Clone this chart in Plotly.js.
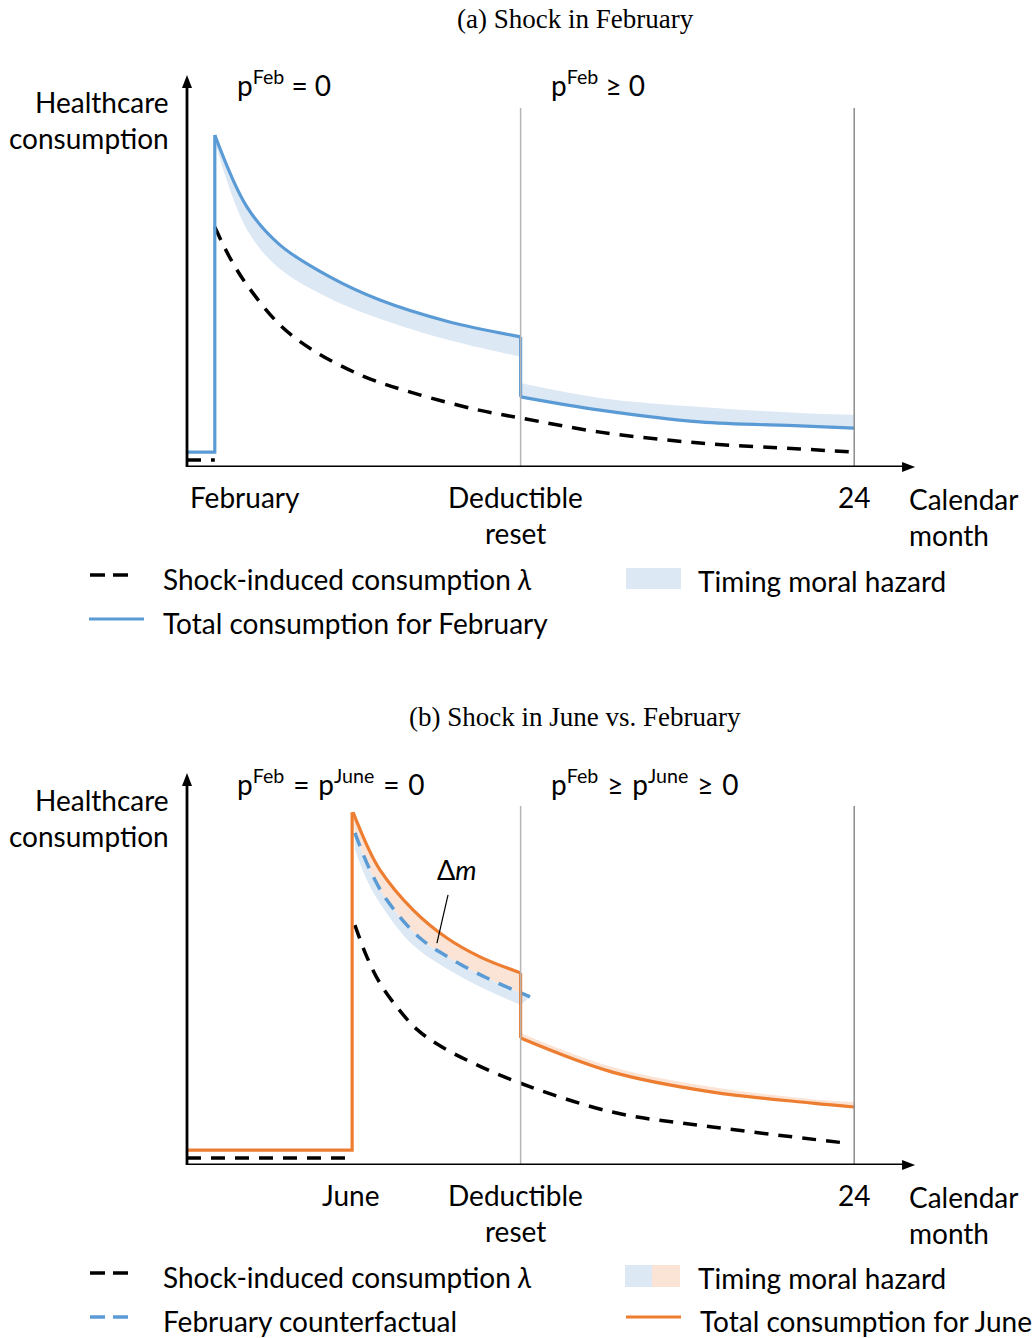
<!DOCTYPE html>
<html>
<head>
<meta charset="utf-8">
<script src="https://cdn.plot.ly/plotly-3.0.1.min.js"></script>
<style>
  html, body { margin: 0; padding: 0; background: #ffffff; }
  #chart { width: 1034px; height: 1338px; }
</style>
</head>
<body>
<div id="chart"></div>
<script>
// ---------- data (x: calendar months on a schematic scale, y: consumption index) ----------
// Panel (a): shock in February
const febShockX = 1;
const resetX = 12;
const endX = 24;
const baseTotal = 3.8;
const baseShock = 1.8;

const febTotalPreX  = [1, 2.16, 3.35, 5.14, 6.94, 9.35, 12];
const febTotalPreY  = [84.7, 66.3, 56.6, 48.5, 42.6, 37.2, 33.2];
const febBandPreLoY = [83, 60.5, 50.5, 43, 37.8, 32.5, 28.1];

const febTotalPostX  = [12, 14.86, 18.45, 22.05, 24];
const febTotalPostY  = [17.9, 14.5, 11.5, 10.5, 9.9];
const febBandPostHiY = [21.4, 17.6, 15.3, 13.8, 13.3];

const febShockCurveX = [1, 1.55, 2.16, 3.35, 4.53, 6.33, 8.13, 10.5, 12, 14.86, 18.45, 22.05, 24];
const febShockCurveY = [61.2, 53.3, 46.4, 36.2, 29.8, 23.2, 18.9, 14.5, 12.5, 8.9, 6.1, 4.6, 3.8];

// Panel (b): shock in June vs. February
const juneShockX = 5.94;

const juneTotalPreX = [5.97, 6.47, 6.94, 8.13, 9.35, 10.54, 12];
const juneTotalPreY = [90, 81.6, 75.3, 65.1, 57.9, 53.1, 49];

const juneTotalPostX  = [12, 15.3, 18.9, 22.5, 24];
const juneTotalPostY  = [32.4, 23.7, 18.6, 15.8, 14.8];
const juneBandPostHiY = [33.7, 25, 19.9, 16.8, 16.1];

const febCfX = [6.04, 6.58, 7.19, 8.38, 9.57, 10.79, 12, 12.34];
const febCfY = [84.7, 75.3, 67.6, 57.9, 52.3, 47.7, 43.9, 42.9];
const febCfBandLoX = [6.04, 6.47, 6.94, 8.13, 9.93, 12];
const febCfBandLoY = [80.4, 72.7, 66.8, 56.1, 47.7, 40.8];

const juneShockCurveX = [6.04, 6.47, 6.94, 7.55, 8.27, 9.1, 10.29, 11.98, 15.3, 18.9, 23.7];
const juneShockCurveY = [61.2, 53.1, 46.4, 40.3, 34.6, 30.4, 26, 20.9, 13.5, 9.7, 5.6];

const guideTop = 91.6;   // height of the vertical guides at the reset and month 24
const axisTopY = 100;
const axisEndX = 26.19;

// Labels
const SP = '\u00a0\u200a';
const titles = ['(a) Shock in February', '(b) Shock in June vs. February'];
const priceLabels = [
  ['p<sup>Feb</sup> = 0', 'p<sup>Feb</sup> ≥ 0'],
  ['p<sup>Feb</sup>' + SP + '=' + SP + 'p<sup>June</sup>' + SP + '=' + SP + '0',
   'p<sup>Feb</sup>' + SP + '≥' + SP + 'p<sup>June</sup>' + SP + '≥' + SP + '0']
];
const shockTickLabels = ['February', 'June'];
const legendLabels = {
  shock: 'Shock-induced consumption <i>λ</i>',
  timing: 'Timing moral hazard',
  febTotal: 'Total consumption for February',
  febCf: 'February counterfactual',
  juneTotal: 'Total consumption for June'
};

// ---------- styling ----------
const W = 1034, H = 1338;
const PX_PER_MONTH = 27.8;
const AXIS_X0_PX = 187;
const BLUE = '#5b9bd5', BLUE_FILL = '#dde8f5';
const ORANGE = '#ed7d31', ORANGE_FILL = '#fbe4d5';
const FONT = 'Lato, "Open Sans", sans-serif';
const SERIF = '"Liberation Serif", "DejaVu Serif", serif';
const FS = 28;
const DASH = '14px,10px';

function px(xp, yp) { return { x: xp / W, y: 1 - yp / H }; }

function band(x, y, xa, ya, fill) {
  return { x, y, xaxis: xa, yaxis: ya, mode: 'lines', line: { width: 0, shape: 'spline' },
    fill: fill ? 'tonexty' : 'none', fillcolor: fill, hoverinfo: 'skip', showlegend: false };
}
function line(x, y, xa, ya, color, width, dash, shape) {
  return { x, y, xaxis: xa, yaxis: ya, mode: 'lines',
    line: { color, width, dash: dash || 'solid', shape: shape || 'linear' },
    hoverinfo: 'skip', showlegend: false };
}

const cfBandUpX = febCfX.filter(v => v <= resetX);
const cfBandUpY = febCfY.slice(0, cfBandUpX.length);

const traces = [
  // panel (a) timing moral hazard bands
  band(febTotalPreX, febBandPreLoY, 'x', 'y', null),
  band(febTotalPreX, febTotalPreY, 'x', 'y', BLUE_FILL),
  band(febTotalPostX, febTotalPostY, 'x', 'y', null),
  band(febTotalPostX, febBandPostHiY, 'x', 'y', BLUE_FILL),
  // panel (a) lines
  line([0, febShockX], [baseShock, baseShock], 'x', 'y', '#000', 3.5, DASH),
  line(febShockCurveX, febShockCurveY, 'x', 'y', '#000', 3.5, DASH, 'spline'),
  line([0, febShockX, febShockX], [baseTotal, baseTotal, febTotalPreY[0]], 'x', 'y', BLUE, 3.2),
  line(febTotalPreX, febTotalPreY, 'x', 'y', BLUE, 3.2, null, 'spline'),
  line([resetX, resetX], [febTotalPreY[febTotalPreY.length - 1], febTotalPostY[0]], 'x', 'y', BLUE, 3.2),
  line(febTotalPostX, febTotalPostY, 'x', 'y', BLUE, 3.2, null, 'spline'),

  // panel (b) bands
  band(febCfBandLoX, febCfBandLoY, 'x2', 'y2', null),
  band(febCfX, febCfY, 'x2', 'y2', BLUE_FILL),
  band(cfBandUpX, cfBandUpY, 'x2', 'y2', null),
  band(juneTotalPreX, juneTotalPreY, 'x2', 'y2', ORANGE_FILL),
  band(juneTotalPostX, juneTotalPostY, 'x2', 'y2', null),
  band(juneTotalPostX, juneBandPostHiY, 'x2', 'y2', ORANGE_FILL),
  // panel (b) lines
  line([0, juneShockX], [baseShock, baseShock], 'x2', 'y2', '#000', 3.5, DASH),
  line(juneShockCurveX, juneShockCurveY, 'x2', 'y2', '#000', 3.5, DASH, 'spline'),
  line(febCfX, febCfY, 'x2', 'y2', BLUE, 3.5, DASH, 'spline'),
  line([0, juneShockX, juneShockX], [baseTotal, baseTotal, juneTotalPreY[0]], 'x2', 'y2', ORANGE, 3.2),
  line(juneTotalPreX, juneTotalPreY, 'x2', 'y2', ORANGE, 3.2, null, 'spline'),
  line([resetX, resetX], [juneTotalPreY[juneTotalPreY.length - 1], juneTotalPostY[0]], 'x2', 'y2', ORANGE, 3.2),
  line(juneTotalPostX, juneTotalPostY, 'x2', 'y2', ORANGE, 3.2, null, 'spline')
];

// ---------- shapes and annotations ----------
const shapes = [];
const annotations = [];

function text(str, xp, yp, opts) {
  const p = px(xp, yp);
  annotations.push(Object.assign({
    text: str, x: p.x, y: p.y, xref: 'paper', yref: 'paper', showarrow: false,
    xanchor: 'center', yanchor: 'middle', font: { family: FONT, size: FS, color: '#000' }
  }, opts || {}));
}
function seg(x0, y0, x1, y1, color, width, dash) {
  const a = px(x0, y0), b = px(x1, y1);
  shapes.push({ type: 'line', xref: 'paper', yref: 'paper', x0: a.x, y0: a.y, x1: b.x, y1: b.y,
    line: { color, width, dash: dash || 'solid' } });
}
function rect(x0, y0, x1, y1, color) {
  const a = px(x0, y0), b = px(x1, y1);
  shapes.push({ type: 'rect', xref: 'paper', yref: 'paper', x0: a.x, y0: a.y, x1: b.x, y1: b.y,
    line: { width: 0 }, fillcolor: color });
}
function tri(pts) {
  const d = pts.map((q, k) => { const p = px(q[0], q[1]); return (k ? 'L' : 'M') + p.x + ',' + p.y; }).join(' ') + ' Z';
  shapes.push({ type: 'path', xref: 'paper', yref: 'paper', path: d, fillcolor: '#000', line: { width: 0 } });
}

[['x', 'y', 0], ['x2', 'y2', 698]].forEach(([xa, ya, dy], i) => {
  // vertical guides at deductible reset and month 24
  shapes.push({ type: 'line', xref: xa, yref: ya, x0: resetX, x1: resetX, y0: 0, y1: guideTop,
    line: { color: '#b4b4b4', width: 1.5 } });
  shapes.push({ type: 'line', xref: xa, yref: ya, x0: endX, x1: endX, y0: 0, y1: guideTop,
    line: { color: '#8c8c8c', width: 1.5 } });
  // axes
  shapes.push({ type: 'line', xref: xa, yref: ya, x0: 0, x1: 0, y0: 0, y1: axisTopY * 0.975,
    line: { color: '#000', width: 2.8 } });
  shapes.push({ type: 'line', xref: xa, yref: ya, x0: 0, x1: axisEndX - 0.35, y0: 0, y1: 0,
    line: { color: '#000', width: 2.8 } });
  // arrowheads
  const top = 467 + dy - axisTopY * 3.92;
  tri([[187, top], [182, top + 13], [192, top + 13]]);
  const tip = AXIS_X0_PX + axisEndX * PX_PER_MONTH;
  tri([[tip, 467 + dy], [tip - 13, 462 + dy], [tip - 13, 472 + dy]]);

  text(titles[i], 575, 19 + dy, { font: { family: SERIF, size: 27, color: '#000' } });
  text('Healthcare', 171, 102 + dy, { xanchor: 'right' });
  text('consumption', 171, 138 + dy, { xanchor: 'right' });
  text(priceLabels[i][0], 235, 84 + dy, { xanchor: 'left' });
  text(priceLabels[i][1], 549, 84 + dy, { xanchor: 'left' });
  text(shockTickLabels[i], i === 0 ? 245 : 350, 497 + dy);
  text('Deductible', 515, 497 + dy);
  text('reset', 515, 533 + dy);
  text('24', 854, 497 + dy);
  text('Calendar', 907, 499 + dy, { xanchor: 'left' });
  text('month', 907, 535 + dy, { xanchor: 'left' });

  // legend
  seg(90, 575 + dy, 129, 575 + dy, '#000', 3.5, '15px,8px');
  text(legendLabels.shock, 161, 579 + dy, { xanchor: 'left' });
  if (i === 0) {
    rect(626, 568, 681, 589, BLUE_FILL);
    text(legendLabels.timing, 696, 581, { xanchor: 'left' });
    seg(89, 619, 144, 619, BLUE, 3.2);
    text(legendLabels.febTotal, 161, 623, { xanchor: 'left' });
  } else {
    rect(625, 1265, 652, 1287, BLUE_FILL);
    rect(652, 1265, 680, 1287, ORANGE_FILL);
    text(legendLabels.timing, 696, 1278, { xanchor: 'left' });
    seg(90, 1317, 129, 1317, BLUE, 3.5, '15px,8px');
    text(legendLabels.febCf, 161, 1321, { xanchor: 'left' });
    seg(626, 1317, 681, 1317, ORANGE, 3.2);
    text(legendLabels.juneTotal, 698, 1321, { xanchor: 'left' });
  }
});

// Δm pointer in panel (b)
shapes.push({ type: 'line', xref: 'x2', yref: 'y2', x0: 9.39, y0: 68.9, x1: 8.99, y1: 56.6,
  line: { color: '#000', width: 1.2 } });
annotations.push({ xref: 'x2', yref: 'y2', x: 9.71, y: 75.3, text: 'Δ<i>m</i>', showarrow: false,
  xanchor: 'center', yanchor: 'middle', font: { family: FONT, size: 27, color: '#000' } });

// ---------- layout ----------
const xRange = [-AXIS_X0_PX / PX_PER_MONTH, (W - AXIS_X0_PX) / PX_PER_MONTH];
const hidden = { visible: false, showgrid: false, zeroline: false, fixedrange: true };

const layout = {
  width: W, height: H,
  margin: { l: 0, r: 0, t: 0, b: 0 },
  paper_bgcolor: '#ffffff', plot_bgcolor: 'rgba(0,0,0,0)',
  showlegend: false,
  xaxis:  Object.assign({ domain: [0, 1], range: xRange, anchor: 'y' }, hidden),
  yaxis:  Object.assign({ domain: [1 - 467 / H, 1 - 75 / H], range: [0, 100], anchor: 'x' }, hidden),
  xaxis2: Object.assign({ domain: [0, 1], range: xRange, anchor: 'y2' }, hidden),
  yaxis2: Object.assign({ domain: [1 - 1165 / H, 1 - 773 / H], range: [0, 100], anchor: 'x2' }, hidden),
  shapes, annotations
};

Plotly.newPlot('chart', traces, layout, { staticPlot: true, displayModeBar: false });
</script>
</body>
</html>
